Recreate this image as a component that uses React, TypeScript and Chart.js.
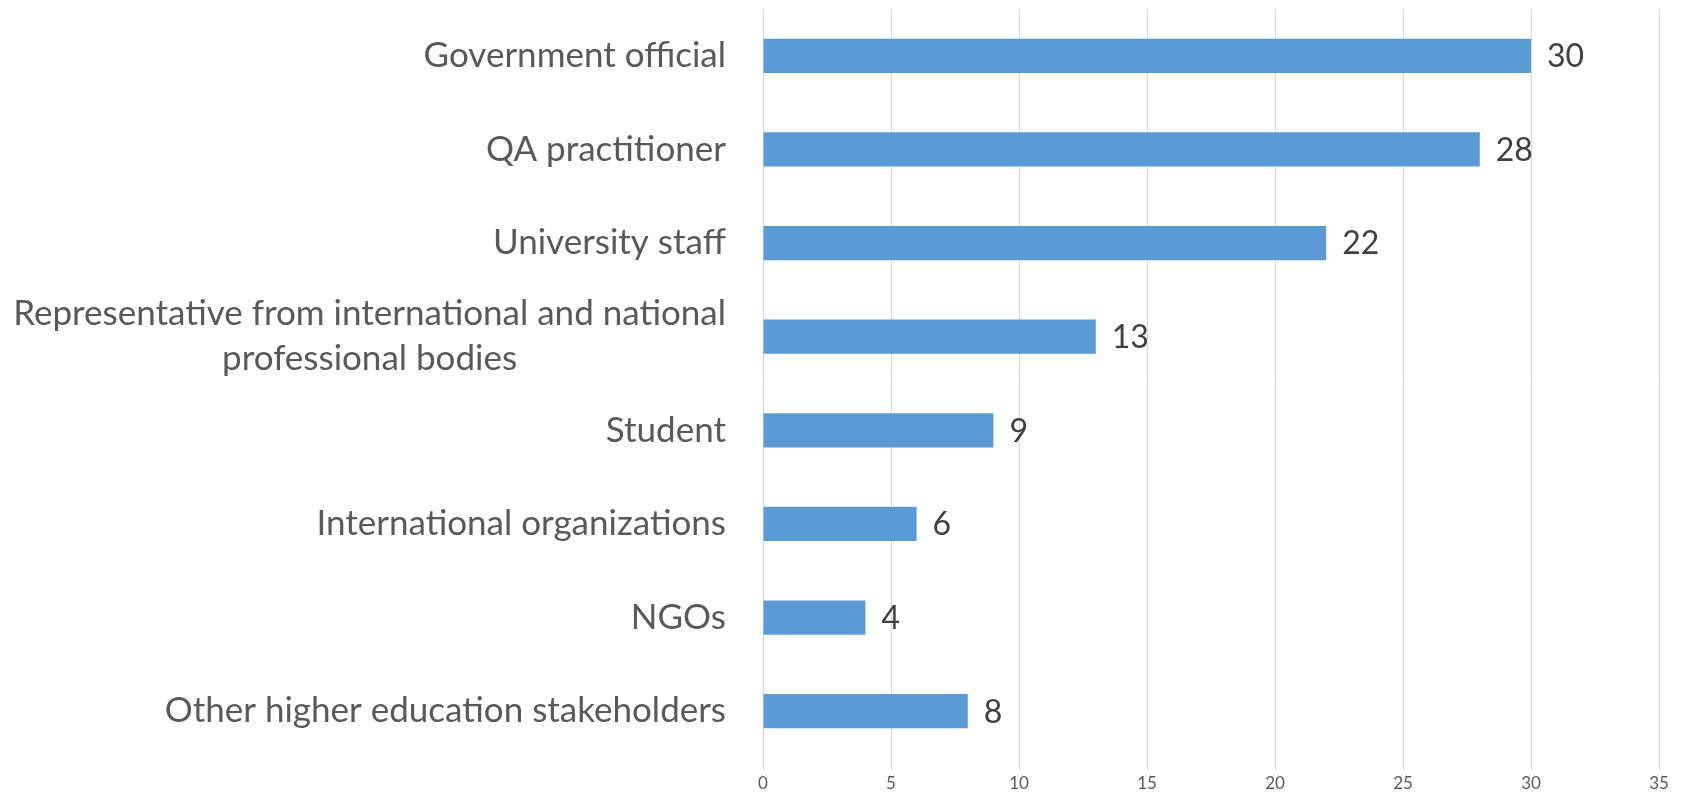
import React, { useEffect, useRef } from "react";
import { Chart, registerables } from "chart.js";

Chart.register(...registerables);

const categories: (string | string[])[] = [
  "Government official",
  "QA practitioner",
  "University staff",
  ["Representative from international and national", "professional bodies"],
  "Student",
  "International organizations",
  "NGOs",
  "Other higher education stakeholders",
];
const values: number[] = [30, 28, 22, 13, 9, 6, 4, 8];
const xTicks: number[] = [0, 5, 10, 15, 20, 25, 30, 35];

const FONT = "Lato, 'Open Sans', sans-serif";
const LABEL_SIZE = 35;
const VALUE_SIZE = 32;
const LABEL_GAP = 37;

const labelPlugin = {
  id: "customLabels",
  afterDatasetsDraw(chart: any) {
    const { ctx, chartArea, scales } = chart;
    const y = scales.y;
    ctx.save();
    // category labels
    ctx.font = `${LABEL_SIZE}px ${FONT}`;
    ctx.fillStyle = "#595959";
    ctx.textBaseline = "middle";
    ctx.textAlign = "center";
    const lineH = 45;
    categories.forEach((c, i) => {
      const lines = Array.isArray(c) ? c : [c];
      const widths = lines.map((l) => ctx.measureText(l).width);
      const maxW = Math.max(...widths);
      const right = chartArea.left - LABEL_GAP;
      const cx = right - maxW / 2;
      const cy = y.getPixelForValue(i);
      const startY = cy - ((lines.length - 1) * lineH) / 2;
      lines.forEach((l, j) => {
        ctx.fillText(l, cx, startY + j * lineH);
      });
    });
    // value labels
    const meta = chart.getDatasetMeta(0);
    ctx.font = `${VALUE_SIZE}px ${FONT}`;
    ctx.fillStyle = "#404040";
    ctx.textAlign = "left";
    meta.data.forEach((bar: any, i: number) => {
      ctx.fillText(String(values[i]), bar.x + 16, bar.y + 1);
    });
    ctx.restore();
  },
};

export default function App() {
  const ref = useRef<HTMLCanvasElement | null>(null);
  useEffect(() => {
    if (!ref.current) return;
    const chart = new Chart(ref.current, {
      type: "bar",
      data: {
        labels: categories.map((c) => (Array.isArray(c) ? c.join(" ") : c)),
        datasets: [
          {
            data: values,
            backgroundColor: "#5b9bd5",
            borderWidth: 0,
            categoryPercentage: 1,
            barPercentage: 0.365,
          },
        ],
      },
      options: {
        indexAxis: "y",
        animation: false,
        responsive: false,
        maintainAspectRatio: false,
        layout: { padding: { top: 9, right: 26, bottom: 0, left: 0 } },
        plugins: {
          legend: { display: false },
          tooltip: { enabled: false },
        },
        scales: {
          x: {
            min: 0,
            max: 35,
            afterBuildTicks: (scale: any) => {
              scale.ticks = xTicks.map((v) => ({ value: v }));
            },
            afterFit: (scale: any) => {
              scale.height = 41;
            },
            grid: {
              color: "#d9d9d9",
              lineWidth: 1,
              drawTicks: true,
              tickLength: 13,
            },
            border: { display: false },
            ticks: {
              color: "#595959",
              font: { family: FONT, size: 17 },
              padding: 2,
            },
          },
          y: {
            afterFit: (scale: any) => {
              scale.width = 763;
            },
            grid: { display: false },
            border: { display: false },
            ticks: { display: false },
          },
        },
      },
      plugins: [labelPlugin],
    });
    return () => chart.destroy();
  }, []);
  return (
    <div style={{ position: "absolute", left: 0, top: 0, width: 1685, height: 799, background: "#fff" }}>
      <canvas ref={ref} width={1685} height={799} style={{ width: 1685, height: 799 }} />
    </div>
  );
}
